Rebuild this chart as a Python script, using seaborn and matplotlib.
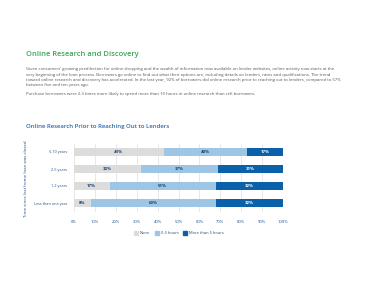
import matplotlib
matplotlib.use("Agg")
import matplotlib.pyplot as plt
import seaborn as sns
import pandas as pd
import numpy as np

sns.set_theme(style="white")
plt.rcParams['font.family'] = ['Open Sans', 'DejaVu Sans']

# ---- data ----
categories = ["5-10 years", "2-5 years", "1-2 years", "Less than one year"]
none_vals = [43, 32, 17, 8]
low_vals = [40, 37, 51, 60]
high_vals = [17, 31, 32, 32]
series_names = ["None", "0-5 hours", "More than 5 hours"]
x_ticks = [0, 10, 20, 30, 40, 50, 60, 70, 80, 90, 100]

title = "Online Research and Discovery"
para_lines = [
    "Given consumers' growing predilection for online shopping and the wealth of information now available on lender websites, online activity now starts at the",
    "very beginning of the loan process. Borrowers go online to find out what their options are, including details on lenders, rates and qualifications. The trend",
    "toward online research and discovery has accelerated. In the last year, 92% of borrowers did online research prior to reaching out to lenders, compared to 57%",
    "between five and ten years ago.",
]
para2 = "Purchase borrowers were 2.3 times more likely to spend more than 10 hours in online research than refi borrowers."
chart_title = "Online Research Prior to Reaching Out to Lenders"
y_label = "Time since last home loan was closed"

colors = ["#dcdcdc", "#9ec5e3", "#0b60aa"]
green = "#3aa655"
navy = "#1b4f8a"
title_blue = "#2a65a6"

df = pd.DataFrame({"cat": categories, "none": none_vals, "low": low_vals, "high": high_vals})
df["c1"] = df["none"]
df["c2"] = df["none"] + df["low"]
df["c3"] = df["none"] + df["low"] + df["high"]

W, H = 379, 291
fig = plt.figure(figsize=(W / 100, H / 100), dpi=100)
fig.patch.set_facecolor("white")

ax = fig.add_axes([74 / W, 1 - 211.5 / H, 209 / W, 68 / H])
bw = 0.47
sns.barplot(data=df, y="cat", x="c3", color=colors[2], width=bw, ax=ax, saturation=1, zorder=3)
sns.barplot(data=df, y="cat", x="c2", color=colors[1], width=bw, ax=ax, saturation=1, zorder=3)
sns.barplot(data=df, y="cat", x="c1", color=colors[0], width=bw, ax=ax, saturation=1, zorder=3)
for p in ax.patches:
    p.set_linewidth(0)

ax.set_xlim(0, 100)
ax.set_xticks(x_ticks)
ax.set_xticklabels([f"{t}%" for t in x_ticks], fontsize=3.0, color=navy)
ax.tick_params(axis="x", length=0, pad=6)
ax.tick_params(axis="y", length=0, pad=5, labelsize=2.7, labelcolor=navy)
ax.set_xlabel("")
ax.set_ylabel("")
ax.grid(axis="x", color="#e4e4e4", linewidth=0.6, zorder=0)
ax.set_axisbelow(True)
for s in ax.spines.values():
    s.set_visible(False)

# value labels
for i, row in df.iterrows():
    segs = [(0, row["none"], "#1b3f6e"), (row["c1"], row["low"], "#1b3f6e"), (row["c2"], row["high"], "white")]
    for start, val, tc in segs:
        ax.text(start + val / 2, i, f"{val}%", ha="center", va="center", fontsize=3.2,
                fontweight="bold", color=tc, zorder=5)

# legend
handles = [plt.Rectangle((0, 0), 1, 1, color=c) for c in colors]
fig.legend(handles, series_names, loc="center", bbox_to_anchor=(179 / W, 1 - 233 / H), ncol=3,
           frameon=False, fontsize=2.9, handlelength=1.0, handleheight=1.0, handletextpad=0.5,
           columnspacing=1.2, labelcolor=navy)

# texts
fig.text(26 / W, 1 - 54 / H, title, fontsize=5.4, color=green, fontweight="semibold", va="center", ha="left")
for k, line in enumerate(para_lines):
    fig.text(26 / W, 1 - (69.3 + 5.35 * k) / H, line, fontsize=3.1, color="#555555", va="center", ha="left")
fig.text(26 / W, 1 - 94.3 / H, para2, fontsize=3.1, color="#555555", va="center", ha="left")
fig.text(26 / W, 1 - 126.7 / H, chart_title, fontsize=4.35, color=title_blue, fontweight="semibold", va="center", ha="left")
fig.text(26 / W, 1 - 179 / H, y_label, fontsize=3.2, color=navy, rotation=90, va="center", ha="center")

fig.savefig("out.png", dpi=100, facecolor="white")
